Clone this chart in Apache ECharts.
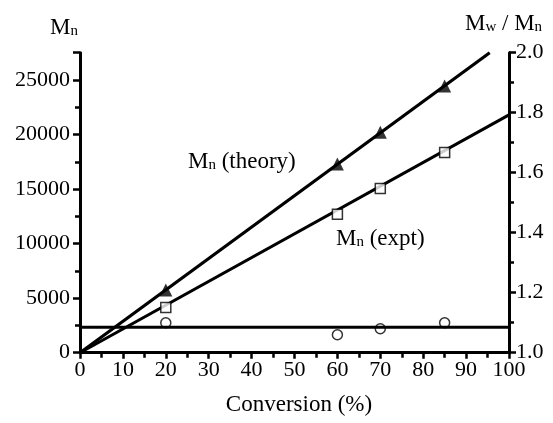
<!DOCTYPE html>
<html><head><meta charset="utf-8">
<script src="https://cdn.jsdelivr.net/npm/echarts@6/dist/echarts.min.js"></script>
<style>html,body{margin:0;padding:0;background:#fff}#c{width:553px;height:423px}</style>
</head><body><div id="c"></div>
<script>
const conversion = [20, 60, 70, 85];
const mnTheory = [5750, 17300, 20200, 24450];
const mnExpt = [4150, 12700, 15050, 18350];
const pdi = [1.10, 1.06, 1.08, 1.10];
const theoryFitX = [0, 95.5];
const theoryFitY = [0, 27500];
const exptFitX = [0, 100];
const exptFitY = [0, 21800];
const pdiFitX = [0, 100];
const pdiFitY = [1.085, 1.085];

const F = 'Liberation Serif';
const FS = 22;
const TS = 23;
const pairs = (xs, ys) => xs.map((x, i) => [x, ys[i]]);
const chart = echarts.init(document.getElementById('c'), null, {renderer: 'canvas'});
const axisCommon = {
  axisLine: {show: true, lineStyle: {color: '#000', width: 3}},
  axisTick: {show: true, inside: false, length: 7, lineStyle: {color: '#000', width: 2.5}},
  minorTick: {show: true, splitNumber: 2, length: 5, lineStyle: {color: '#000', width: 2.5}},
  splitLine: {show: false},
  axisLabel: {color: '#000', fontFamily: F, fontSize: FS}
};
const sub = {fontFamily: F, fontSize: 15, verticalAlign: 'bottom', padding: [7, 0, 0, 0]};
chart.setOption({
  animation: false,
  grid: {left: 80, right: 44, top: 52.7, bottom: 70.3},
  xAxis: Object.assign({}, axisCommon, {
    type: 'value', min: 0, max: 100, interval: 10,
    axisTick: {show: true, length: 6, lineStyle: {color: '#000', width: 2.5}},
    axisLabel: {color: '#000', fontFamily: F, fontSize: FS, margin: 7}
  }),
  yAxis: [
    Object.assign({}, axisCommon, {
      type: 'value', min: 0, max: 27500, interval: 5000, position: 'left',
      axisLabel: {color: '#000', fontFamily: F, fontSize: FS, margin: 10, showMaxLabel: false,
        formatter: v => v > 25000 ? '' : String(v)}
    }),
    Object.assign({}, axisCommon, {
      type: 'value', min: 1.0, max: 2.0, interval: 0.2, position: 'right',
      axisLabel: {color: '#000', fontFamily: F, fontSize: FS, margin: 7,
        formatter: v => v.toFixed(1)}
    })
  ],
  series: [
    {type: 'line', data: pairs(theoryFitX, theoryFitY), symbol: 'none',
     lineStyle: {color: '#000', width: 3.2}, z: 2},
    {type: 'line', data: pairs(exptFitX, exptFitY), symbol: 'none',
     lineStyle: {color: '#000', width: 3}, z: 2},
    {type: 'line', yAxisIndex: 1, data: pairs(pdiFitX, pdiFitY), symbol: 'none',
     lineStyle: {color: '#000', width: 3}, z: 2},
    {type: 'scatter', data: pairs(conversion, mnTheory), symbol: 'triangle', symbolSize: 13,
     itemStyle: {color: '#000'}, z: 3},
    {type: 'scatter', data: pairs(conversion, mnExpt), symbol: 'rect', symbolSize: 10,
     itemStyle: {color: '#fff', borderColor: '#000', borderWidth: 1.5}, z: 3},
    {type: 'scatter', yAxisIndex: 1, data: pairs(conversion, pdi), symbol: 'circle', symbolSize: 10,
     itemStyle: {color: '#fff', borderColor: '#000', borderWidth: 1.5}, z: 1}
  ],
  graphic: [
    {type: 'text', left: 50, top: 16, style: {text: 'M{s|n}', fontFamily: F, fontSize: TS, fill: '#000', rich: {s: sub}}},
    {type: 'text', left: 465, top: 12, style: {text: 'M{s|w} / M{s|n}', fontFamily: F, fontSize: TS, fill: '#000', rich: {s: sub}}},
    {type: 'text', left: 188, top: 150, style: {text: 'M{s|n} (theory)', fontFamily: F, fontSize: TS, fill: '#000', rich: {s: sub}}},
    {type: 'text', left: 336, top: 227, style: {text: 'M{s|n} (expt)', fontFamily: F, fontSize: TS, fill: '#000', rich: {s: sub}}},
    {type: 'text', x: 299, y: 405, style: {text: 'Conversion (%)', fontFamily: F, fontSize: TS, fill: '#000',
      align: 'center', verticalAlign: 'middle'}}
  ]
});
</script></body></html>
